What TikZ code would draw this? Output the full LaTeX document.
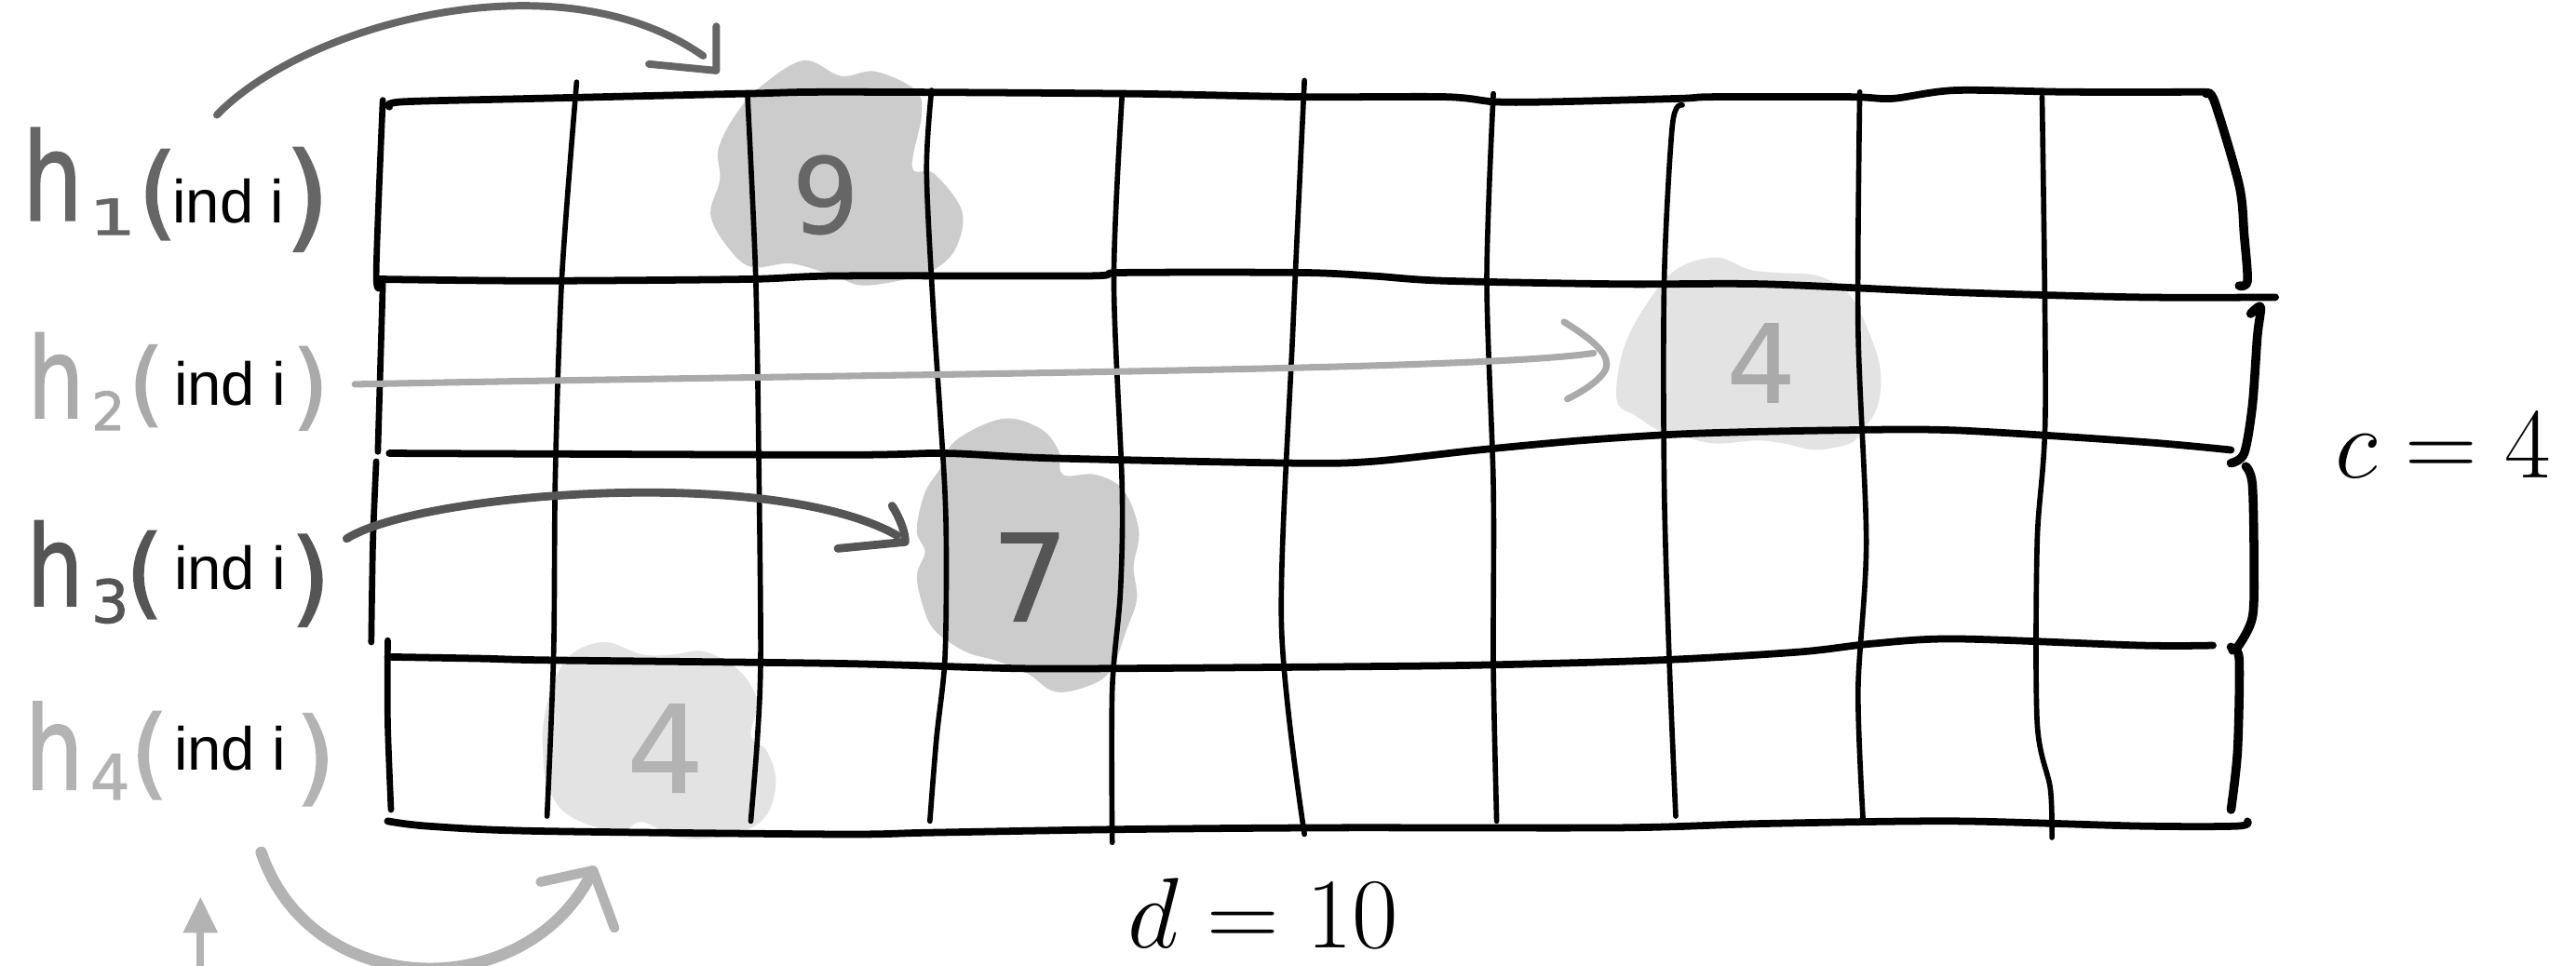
\RequirePackage{fix-cm}
\documentclass[tikz,border=0pt]{standalone}
\usepackage{fontspec}
\usepackage{graphicx}
\newfontfamily\handf{DejaVu Sans}[FakeBold=1.6]
\newfontfamily\digf{DejaVu Sans}[FakeBold=0.7]
\newfontfamily\arialf{Liberation Sans}
\usetikzlibrary{arrows.meta}
\definecolor{cone}{HTML}{666666}
\definecolor{ctwo}{HTML}{AAAAAA}
\definecolor{cthree}{HTML}{555555}
\definecolor{cfour}{HTML}{B3B3B3}
\definecolor{blobd}{HTML}{CCCCCC}
\definecolor{blobl}{HTML}{E3E3E3}
\newcommand{\handsize}[1]{\handf\fontsize{#1}{#1}\selectfont}
\newcommand{\digsize}[1]{\digf\fontsize{#1}{#1}\selectfont}
\begin{document}
\begin{tikzpicture}[x=1pt,y=-1pt,
  hl/.style={line width=4.4pt, line cap=round, line join=round, black},
  vl/.style={line width=3.2pt, line cap=round, line join=round, black},
  edgel/.style={line width=5.4pt, line cap=round, line join=round, black},
  hw/.style={inner sep=0pt, outer sep=0pt},
  ind/.style={inner sep=1pt, fill=white, font=\arialf\fontsize{37}{40}\selectfont, anchor=base, text=black},
  arr/.style={line cap=round, line join=round},
  mathlab/.style={anchor=base, inner sep=0pt, font=\fontsize{61}{68}\selectfont}]
\useasboundingbox (0,0) rectangle (1568,588);
\begin{scope}
\clip (0,0) rectangle (1568,588);

% ---------- blobs ----------
\fill[blobd] plot[smooth cycle, tension=0.6] coordinates {(462.8,52.9) (489.2,36.8) (511.9,46.3) (532.7,43.5) (557.2,54.8) (561,69.9) (555.3,102) (568.6,105.8) (585.5,128.5) (581.8,151.1) (568.6,164.3) (551.6,170) (525.1,173.8) (508.1,168.1) (481.7,160.5) (457.1,162.5) (442,149.2) (432.5,130.3) (438.2,109.5) (437.3,90.7) (447.7,69.9)};
\fill[blobl] plot[smooth cycle, tension=0.6] coordinates {(984.1,243.7) (987.9,213.5) (1001.1,187) (1020,164.3) (1044.6,156.8) (1065.3,164.3) (1084.2,166.2) (1106.9,168.1) (1125.8,179.5) (1139,205.9) (1144.7,226.7) (1142.8,247.5) (1133.3,262.5) (1125.8,270.1) (1105,273.9) (1086.1,270.1) (1069.1,268.2) (1044.6,270.1) (1025.7,266.3) (1010.6,262.5) (995.5,253.1)};
\fill[blobd] plot[smooth cycle, tension=0.6] coordinates {(581.8,268.2) (610.1,255) (632.8,260.7) (644.1,273.9) (647,289) (666.8,289) (683.8,298.5) (693.2,323) (690,345) (692,364.5) (685.7,383.5) (676.2,408) (663,417.5) (642.2,421.2) (625.2,409.9) (606.3,402.3) (587.5,396.7) (568.6,383.5) (561,366.5) (558.2,349.5) (563,336) (558,323) (562.9,300.3) (572.3,285.2)};
\fill[blobl] plot[smooth cycle, tension=0.6] coordinates {(330.6,442) (336.2,417.5) (347.6,398.5) (368.3,391) (391,398.5) (409.9,398.5) (428.8,396.7) (449.6,408) (460.9,426.9) (457.1,447.7) (466.6,457.1) (472.2,474.1) (468.5,493) (457.1,504.3) (436.3,510) (411.8,510) (391,500.5) (377.8,506.2) (358.9,502.5) (341.9,493) (332.5,476) (330.6,459)};

% ---------- horizontal grid lines ----------
\draw[hl] plot[smooth, tension=0.5] coordinates {(237,65) (245,62) (325,60) (455,57) (510,56) (683,57) (792,59) (880,59) (910,62) (944,62) (1022,60) (1043,59) (1126,59) (1152,60) (1190,55) (1260,56) (1343,56)};
\draw[hl] plot[smooth, tension=0.5] coordinates {(230,170) (325,171) (455,170) (510,168) (662,168) (683,166) (792,166) (835,168) (879,171) (987,173) (1074,173) (1190,178) (1303,181) (1385,181)};
\draw[hl] plot[smooth, tension=0.5] coordinates {(237,276) (510,277) (575,276) (640,279) (787,282) (835,281) (900,274) (965,268) (1030,264) (1117,262) (1190,262) (1303,269) (1358,274)};
\draw[hl] plot[smooth, tension=0.5] coordinates {(236,400) (293,401) (335,402) (510,404) (618,407) (683,407) (813,406) (900,405) (1009,402) (1095,397) (1139,392) (1190,389) (1303,393) (1347,393)};
\draw[hl] plot[smooth, tension=0.5] coordinates {(236,500) (260,503) (325,506) (510,508) (566,507) (683,505) (813,504) (987,504) (1074,501.5) (1190,500) (1303,503) (1362,503) (1368,500)};

% ---------- vertical grid lines ----------
\draw[vl, line width=3.8pt] plot[smooth, tension=0.5] coordinates {(233,61) (229,168) (233,171)};
\draw[vl, line width=3.8pt] plot[smooth, tension=0.5] coordinates {(233,173) (230,275)};
\draw[vl, line width=3.8pt] plot[smooth, tension=0.5] coordinates {(229,281) (227,330) (226,391)};
\draw[vl, line width=3.8pt] plot[smooth, tension=0.5] coordinates {(236,390) (236,440) (238,493)};
\draw[vl] plot[smooth, tension=0.5] coordinates {(351,50) (342,169) (338,290) (337,397) (333,497)};
\draw[vl] plot[smooth, tension=0.5] coordinates {(455,58) (460,169) (462,290) (463,400) (461,450) (457,500)};
\draw[vl] plot[smooth, tension=0.5] coordinates {(567,55) (564,104) (568,187) (575,296) (576,350) (575,404) (570,450) (566,500)};
\draw[vl] plot[smooth, tension=0.5] coordinates {(683,58) (678,170) (683,296) (682,360) (677,420) (677,513)};
\draw[vl] plot[smooth, tension=0.5] coordinates {(794,49) (787,200) (780,380) (794,508)};
\draw[vl] plot[smooth, tension=0.5] coordinates {(909,57) (905,170) (909,296) (909,406) (911,500)};
\draw[vl] plot[smooth, tension=0.5] coordinates {(1024,64) (1018,76) (1013,170) (1013,296) (1016,400) (1020,497)};
\draw[vl] plot[smooth, tension=0.5] coordinates {(1132,56) (1131,200) (1136,330) (1131,420) (1134,499)};
\draw[vl] plot[smooth, tension=0.5] coordinates {(1243,59) (1245,250) (1240,330) (1240,440) (1248,480) (1249,510)};

% ---------- right edge strokes ----------
\draw[edgel] plot[smooth, tension=0.5] coordinates {(1343,57) (1348,62) (1363,113) (1366,143) (1368,171) (1363,174)};
\draw[edgel] plot[smooth, tension=0.5] coordinates {(1370,191) (1376,187) (1374,205) (1371,247) (1366,276) (1358,282)};
\draw[edgel] plot[smooth, tension=0.5] coordinates {(1367,284) (1371,295) (1372,344) (1371,376) (1362,394) (1358,394)};
\draw[edgel] plot[smooth, tension=0.5] coordinates {(1359,396) (1363,402) (1362,457) (1358,493)};

% ---------- digits in blobs ----------
\node[hw, text=cone, font=\digsize{64}] (n9) at (502.5,118.7) {9};
\node[hw, text=ctwo, font=\digsize{66}] (n4a) at (1072,221) {4};
\node[hw, text=cthree, font=\digsize{74}] (n7) at (627,351.4) {7};
\node[hw, text=cfour, font=\digsize{74}] (n4b) at (405,455.7) {4};

% ---------- labels ----------
\node[hw, text=cone, font=\handsize{74}] (h1) at (32,106) {\scalebox{0.78}[1]{h}};
\node[hw, text=cone, font=\handsize{30}] (s1) at (68.5,132) {\scalebox{1.5}[1]{1}};
\node[hw, text=cone, font=\handsize{62}] (p1l) at (96,118.5) {(};
\node[hw, text=cone, font=\handsize{71}] (p1r) at (187,121.5) {)};
\node[ind] (i1) at (139,136) {ind i};

\node[hw, text=ctwo, font=\handsize{68}] (h2) at (34,228.5) {\scalebox{0.8}[1]{h}};
\node[hw, text=ctwo, font=\handsize{32}] (s2) at (66,250) {2};
\node[hw, text=ctwo, font=\handsize{56}] (p2l) at (89,235) {(};
\node[hw, text=ctwo, font=\handsize{57}] (p2r) at (189,236.5) {)};
\node[ind] (i2) at (140,247) {ind i};

\node[hw, text=cthree, font=\handsize{68}] (h3) at (33.5,343) {\scalebox{0.8}[1]{h}};
\node[hw, text=cthree, font=\handsize{36}] (s3) at (67,366) {3};
\node[hw, text=cthree, font=\handsize{60}] (p3l) at (88,350) {(};
\node[hw, text=cthree, font=\handsize{63}] (p3r) at (189,353.5) {)};
\node[ind] (i3) at (140,359) {ind i};

\node[hw, text=cfour, font=\handsize{70}] (h4) at (33,454) {\scalebox{0.8}[1]{h}};
\node[hw, text=cfour, font=\handsize{38}] (s4) at (67,473) {4};
\node[hw, text=cfour, font=\handsize{60}] (p4l) at (91,460) {(};
\node[hw, text=cfour, font=\handsize{63}] (p4r) at (192,462.5) {)};
\node[ind] (i4) at (140,469) {ind i};

% ---------- math labels ----------
\node[mathlab] (dlab) at (769,577) {$d = 10$};
\node[mathlab] (clab) at (1487,291) {$c = 4$};

% ---------- arrows ----------
\coordinate (a1s) at (132,70);
\coordinate (a1e) at (428,34);
\coordinate (a1t) at (436,43);
\draw[arr, cone, line width=4.5pt] (a1s) .. controls (185,15) and (340,-28) .. (a1e);
\draw[arr, cone, line width=4.5pt] ([shift={(0,-27)}]a1t) -- (a1t) -- ([shift={(-41,-4)}]a1t);

\coordinate (a2s) at (216,234);
\coordinate (a2e) at (970,215);
\coordinate (a2t) at (978,222);
\draw[arr, ctwo, line width=4pt] (a2s) .. controls (500,228) and (900,226) .. (a2e);
\draw[arr, ctwo, line width=4pt] ([shift={(-26,-26)}]a2t) .. controls ([shift={(-10,-16)}]a2t) and ([shift={(0,-8)}]a2t) .. (a2t) .. controls ([shift={(0,6)}]a2t) and ([shift={(-10,14)}]a2t) .. ([shift={(-24,21)}]a2t);

\coordinate (a3s) at (211,328);
\coordinate (a3e) at (546,326);
\coordinate (a3t) at (551,330);
\draw[arr, cthree, line width=5pt] (a3s) .. controls (255,300) and (470,283) .. (a3e);
\draw[arr, cthree, line width=5pt] ([shift={(-8,-22)}]a3t) .. controls ([shift={(-3,-14)}]a3t) and ([shift={(0,-6)}]a3t) .. (a3t) -- ([shift={(-41,4)}]a3t);

\coordinate (a4s) at (159,519);
\coordinate (a4e) at (360,532);
\coordinate (a4t) at (361,530);
\draw[arr, cfour, line width=7pt] (a4s) .. controls (190,610) and (320,612) .. (a4e);
\draw[arr, cfour, line width=6pt] ([shift={(-32,7)}]a4t) -- (a4t) -- ([shift={(13,35)}]a4t);

\coordinate (upb) at (122,600);
\coordinate (upt) at (122,546);
\draw[cfour, line width=4.5pt, -{Triangle[length=22pt,width=20pt]}] (upb) -- (upt);
\end{scope}
\end{tikzpicture}
\end{document}
